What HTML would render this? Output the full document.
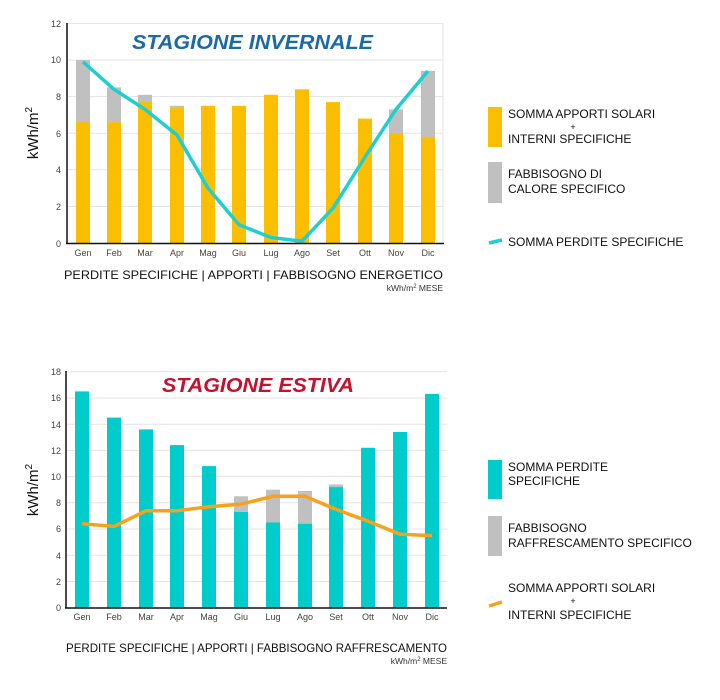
<!DOCTYPE html>
<html><head><meta charset="utf-8"><style>body{margin:0;background:#fff}svg{display:block}text{font-family:"Liberation Sans",sans-serif}</style></head><body>
<svg width="720" height="700" viewBox="0 0 720 700" xmlns="http://www.w3.org/2000/svg">
<!-- TOP CHART -->
<g stroke="#e3e3e3" stroke-width="1">
<line x1="67" x2="443" y1="23.4" y2="23.4"/><line x1="67" x2="443" y1="60" y2="60"/><line x1="67" x2="443" y1="96.6" y2="96.6"/><line x1="67" x2="443" y1="133.2" y2="133.2"/><line x1="67" x2="443" y1="169.8" y2="169.8"/><line x1="67" x2="443" y1="206.4" y2="206.4"/><line x1="443" x2="443" y1="23" y2="243"/>
</g>
<g fill="#c0c0c0">
<rect x="76" y="60" width="14" height="63"/><rect x="107" y="87.4" width="14" height="35"/><rect x="138" y="94.8" width="14" height="8"/><rect x="170" y="105.8" width="14" height="2"/><rect x="389" y="109.4" width="14" height="24"/><rect x="421" y="71" width="14" height="66"/>
</g>
<g fill="#fbbf00">
<rect x="76" y="122.2" width="14" height="120.8"/><rect x="107" y="122.2" width="14" height="120.8"/><rect x="138" y="102.1" width="14" height="140.9"/><rect x="170" y="107.6" width="14" height="135.4"/><rect x="201" y="105.8" width="14" height="137.2"/><rect x="232" y="105.8" width="14" height="137.2"/><rect x="264" y="94.8" width="14" height="148.2"/><rect x="295" y="89.3" width="14" height="153.7"/><rect x="326" y="102.1" width="14" height="140.9"/><rect x="358" y="118.6" width="14" height="124.4"/><rect x="389" y="133.2" width="14" height="109.8"/><rect x="421" y="136.9" width="14" height="106.1"/>
</g>
<polyline fill="none" stroke="#1fcfcf" stroke-width="3.5" stroke-linejoin="round" points="83,61.8 114,89.3 145,109.4 177,135 208,188.1 239,224.7 271,237.5 302,241.2 333,208.2 365,157 396,109.4 428,71"/>
<line x1="67" x2="67" y1="23" y2="244" stroke="#111" stroke-width="1.5"/>
<line x1="66" x2="444" y1="243.5" y2="243.5" stroke="#111" stroke-width="1.5"/>
<g font-size="9" fill="#444" text-anchor="end">
<text x="61" y="27">12</text><text x="61" y="63">10</text><text x="61" y="100">8</text><text x="61" y="137">6</text><text x="61" y="173">4</text><text x="61" y="210">2</text><text x="61" y="247">0</text>
</g>
<g font-size="9" fill="#444" text-anchor="middle">
<text x="83" y="256">Gen</text><text x="114" y="256">Feb</text><text x="145" y="256">Mar</text><text x="177" y="256">Apr</text><text x="208" y="256">Mag</text><text x="239" y="256">Giu</text><text x="271" y="256">Lug</text><text x="302" y="256">Ago</text><text x="333" y="256">Set</text><text x="365" y="256">Ott</text><text x="396" y="256">Nov</text><text x="428" y="256">Dic</text>
</g>
<text x="132" y="49" font-size="20" font-weight="bold" font-style="italic" fill="#1c69a8" textLength="241" lengthAdjust="spacingAndGlyphs">STAGIONE INVERNALE</text>
<text transform="translate(38,133) rotate(-90)" font-size="15" text-anchor="middle" fill="#111">kWh/m<tspan font-size="10" dy="-6">2</tspan></text>
<text x="64" y="279" font-size="12" fill="#111" textLength="379" lengthAdjust="spacingAndGlyphs">PERDITE SPECIFICHE | APPORTI | FABBISOGNO ENERGETICO</text>
<text x="443" y="291" font-size="8.5" text-anchor="end" fill="#333">kWh/m<tspan font-size="6" dy="-3">2</tspan><tspan dy="3"> MESE</tspan></text>
<!-- top legend -->
<rect x="488" y="107" width="14" height="40" fill="#fbbf00"/>
<rect x="488" y="162" width="14" height="41" fill="#c0c0c0"/>
<line x1="489" x2="502" y1="243" y2="240" stroke="#1fcfcf" stroke-width="3.5"/>
<g font-size="12" fill="#111">
<text x="508" y="118">SOMMA APPORTI SOLARI</text><text x="573" y="130" font-size="9" text-anchor="middle">+</text><text x="508" y="143">INTERNI SPECIFICHE</text>
<text x="508" y="178">FABBISOGNO DI</text><text x="508" y="193">CALORE SPECIFICO</text>
<text x="508" y="246">SOMMA PERDITE SPECIFICHE</text>
</g>
<!-- BOTTOM CHART -->
<g stroke="#e3e3e3" stroke-width="1">
<line x1="66" x2="447" y1="371.7" y2="371.7"/><line x1="66" x2="447" y1="398" y2="398"/><line x1="66" x2="447" y1="424.2" y2="424.2"/><line x1="66" x2="447" y1="450.4" y2="450.4"/><line x1="66" x2="447" y1="476.6" y2="476.6"/><line x1="66" x2="447" y1="502.8" y2="502.8"/><line x1="66" x2="447" y1="529" y2="529"/><line x1="66" x2="447" y1="555.3" y2="555.3"/><line x1="66" x2="447" y1="581.5" y2="581.5"/>
</g>
<g fill="#c0c0c0">
<rect x="234" y="496.3" width="14" height="16"/><rect x="266" y="489.7" width="14" height="33"/><rect x="298" y="491" width="14" height="33"/><rect x="329" y="484.5" width="14" height="3"/>
</g>
<g fill="#00cccc">
<rect x="75" y="391.4" width="14" height="216.3"/><rect x="107" y="417.6" width="14" height="190.1"/><rect x="139" y="429.4" width="14" height="178.3"/><rect x="170" y="445.1" width="14" height="162.6"/><rect x="202" y="466.1" width="14" height="141.6"/><rect x="234" y="512" width="14" height="95.7"/><rect x="266" y="522.5" width="14" height="85.2"/><rect x="298" y="523.8" width="14" height="83.9"/><rect x="329" y="487.1" width="14" height="120.6"/><rect x="361" y="447.8" width="14" height="159.9"/><rect x="393" y="432" width="14" height="175.7"/><rect x="425" y="394" width="14" height="213.7"/>
</g>
<polyline fill="none" stroke="#f7a21b" stroke-width="3.5" stroke-linejoin="round" points="82,523.8 114,526.4 146,510.7 177,510.7 209,506.8 241,504.1 273,496.3 305,496.3 336,509.4 368,521.2 400,534.3 432,535.6"/>
<line x1="66" x2="66" y1="371" y2="608.5" stroke="#111" stroke-width="1.5"/>
<line x1="65" x2="447" y1="608" y2="608" stroke="#111" stroke-width="1.5"/>
<g font-size="9" fill="#444" text-anchor="end">
<text x="61" y="375">18</text><text x="61" y="401">16</text><text x="61" y="428">14</text><text x="61" y="454">12</text><text x="61" y="480">10</text><text x="61" y="506">8</text><text x="61" y="532">6</text><text x="61" y="559">4</text><text x="61" y="585">2</text><text x="61" y="611">0</text>
</g>
<g font-size="9" fill="#444" text-anchor="middle">
<text x="82" y="620">Gen</text><text x="114" y="620">Feb</text><text x="146" y="620">Mar</text><text x="177" y="620">Apr</text><text x="209" y="620">Mag</text><text x="241" y="620">Giu</text><text x="273" y="620">Lug</text><text x="305" y="620">Ago</text><text x="336" y="620">Set</text><text x="368" y="620">Ott</text><text x="400" y="620">Nov</text><text x="432" y="620">Dic</text>
</g>
<text x="162" y="392" font-size="20" font-weight="bold" font-style="italic" fill="#c8102e" textLength="192" lengthAdjust="spacingAndGlyphs">STAGIONE ESTIVA</text>
<text transform="translate(38,490) rotate(-90)" font-size="15" text-anchor="middle" fill="#111">kWh/m<tspan font-size="10" dy="-6">2</tspan></text>
<text x="66" y="652" font-size="12" fill="#111" textLength="381" lengthAdjust="spacingAndGlyphs">PERDITE SPECIFICHE | APPORTI | FABBISOGNO RAFFRESCAMENTO</text>
<text x="447" y="664" font-size="8.5" text-anchor="end" fill="#333">kWh/m<tspan font-size="6" dy="-3">2</tspan><tspan dy="3"> MESE</tspan></text>
<!-- bottom legend -->
<rect x="488" y="460" width="14" height="39" fill="#00cccc"/>
<rect x="488" y="516" width="14" height="40" fill="#c0c0c0"/>
<line x1="489" x2="502" y1="606" y2="602" stroke="#f7a21b" stroke-width="3.5"/>
<g font-size="12" fill="#111">
<text x="508" y="471">SOMMA PERDITE</text><text x="508" y="485">SPECIFICHE</text>
<text x="508" y="532">FABBISOGNO</text><text x="508" y="547">RAFFRESCAMENTO SPECIFICO</text>
<text x="508" y="592">SOMMA APPORTI SOLARI</text><text x="573" y="604" font-size="9" text-anchor="middle">+</text><text x="508" y="619">INTERNI SPECIFICHE</text>
</g>
</svg>
</body></html>
